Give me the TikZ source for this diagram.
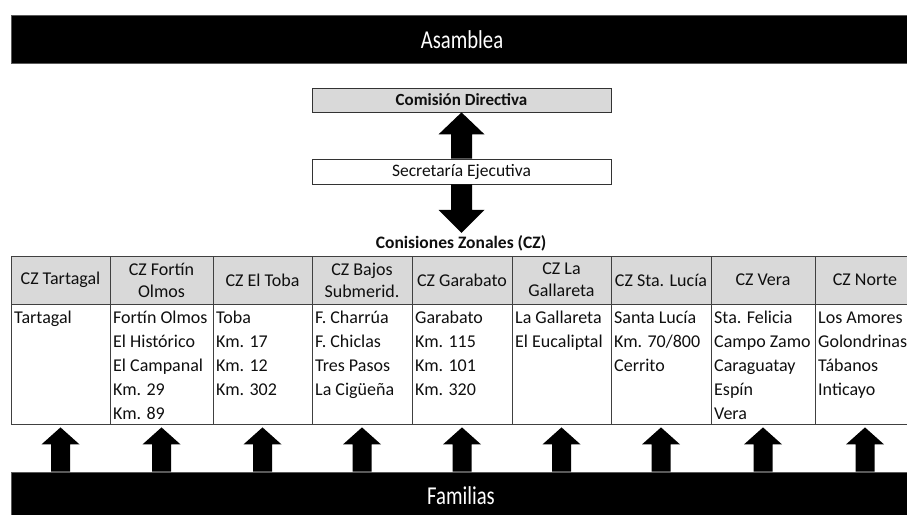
\documentclass[tikz,border=0pt]{standalone}
\usepackage{fontspec}
\setmainfont{Carlito}
\usetikzlibrary{calc}
\definecolor{hdrgray}{RGB}{217,217,217}
\definecolor{ink}{RGB}{15,15,15}
\newcommand\BlkUp[5]{\fill let \p1=(#1),\p2=(#2) in (\x2-#3,\y1) -- (\x2-#3,\y2-#5) -- (\x2-#4,\y2-#5) -- (\x2,\y2) -- (\x2+#4,\y2-#5) -- (\x2+#3,\y2-#5) -- (\x2+#3,\y1) -- cycle;}
\newcommand\BlkDown[5]{\fill let \p1=(#1),\p2=(#2) in (\x1-#3,\y1) -- (\x1-#3,\y2+#5) -- (\x1-#4,\y2+#5) -- (\x1,\y2) -- (\x1+#4,\y2+#5) -- (\x1+#3,\y2+#5) -- (\x1+#3,\y1) -- cycle;}
\newcommand\CellLines[3]{\foreach \t [count=\i] in {#3} \node[celltxt] (t#1-\i) at (#2+3, 299+24*\i) {\t};}
\begin{document}
\begin{tikzpicture}[x=1pt,y=-1pt,
  bar/.style={fill=black, draw=black!65, line width=0.8pt, minimum width=899pt, inner sep=0pt},
  bartext/.style={text=white, font=\fontsize{23}{26}\selectfont},
  hdr/.style={draw=black!75, fill=hdrgray, line width=0.8pt, minimum height=48pt, inner sep=0pt, align=center, text=ink, font=\fontsize{18}{22}\selectfont},
  bodycell/.style={draw=black!75, line width=0.8pt, minimum height=120pt, inner sep=0pt},
  celltxt/.style={anchor=base west, inner sep=0pt, text=ink, font=\fontsize{18}{22}\selectfont},
  topbox/.style={draw=black!80, line width=0.8pt, minimum width=299pt, minimum height=24pt, inner sep=0pt, text=ink},
]
\useasboundingbox (0,0) rectangle (907,514);
\clip (0,0) rectangle (907,514);

% bars
\node[bar, minimum height=48pt] (asm) at (460.5,39) {};
\node[bartext] (asmtxt) at (462,40) {\scalebox{0.9}[1.12]{Asamblea}};
\node[bar, minimum height=46pt] (fam) at (460.5,495) {};
\node[bartext] (famtxt) at (461,496) {\scalebox{0.9}[1.12]{Familias}};

% top boxes
\node[topbox, fill=hdrgray, font=\bfseries\fontsize{17}{20}\selectfont] (cd) at (461.5,100) {Comisión Directiva};
\node[topbox, fill=white, minimum height=25pt, font=\fontsize{17.5}{20}\selectfont] (sec) at (461.5,171.5) {Secretaría Ejecutiva};
\node[inner sep=2pt, text=ink, font=\bfseries\fontsize{17.5}{20}\selectfont] (cz) at (461,243) {Conisiones Zonales (CZ)};

\BlkUp{sec.north}{cd.south}{10.5pt}{23pt}{22pt}
\BlkDown{sec.south}{cz.north}{10.5pt}{23pt}{23pt}

% table
\foreach \L/\R/\c/\hd in {11/110/1/{CZ Tartagal}, 110/213/2/{CZ Fortín\\Olmos}, 213/312/3/{CZ El Toba}, 312/412/4/{CZ Bajos\\Submerid.}, 412/512/5/{CZ Garabato}, 512/611/6/{CZ La\\Gallareta}, 611/711/7/{CZ Sta. Lucía}, 711/815/8/{CZ Vera}, 815/915/9/{CZ Norte}}{
  \node[hdr, minimum width=\R pt-\L pt] (h\c) at ({(\L+\R)/2},280) {\hd};
  \node[bodycell, minimum width=\R pt-\L pt] (b\c) at ({(\L+\R)/2},364) {};
}

\CellLines{1}{11}{Tartagal}
\CellLines{2}{110}{Fortín Olmos, El Histórico, El Campanal, Km. 29, Km. 89}
\CellLines{3}{213}{Toba, Km. 17, Km. 12, Km. 302}
\CellLines{4}{312}{F. Charrúa, F. Chiclas, Tres Pasos, La Cigüeña}
\CellLines{5}{412}{Garabato, Km. 115, Km. 101, Km. 320}
\CellLines{6}{512}{La Gallareta, El Eucaliptal}
\CellLines{7}{611}{Santa Lucía, Km. 70/800, Cerrito}
\CellLines{8}{711}{Sta. Felicia, Campo Zamo, Caraguatay, Espín, Vera}
\CellLines{9}{815}{Los Amores, Golondrinas, Tábanos, Inticayo}

% arrows from Familias
\foreach \k in {1,...,9}{
  \BlkUp{fam.north -| b\k.south}{[yshift=-3pt]b\k.south}{9.5pt}{19pt}{17pt}
}
\end{tikzpicture}
\end{document}
